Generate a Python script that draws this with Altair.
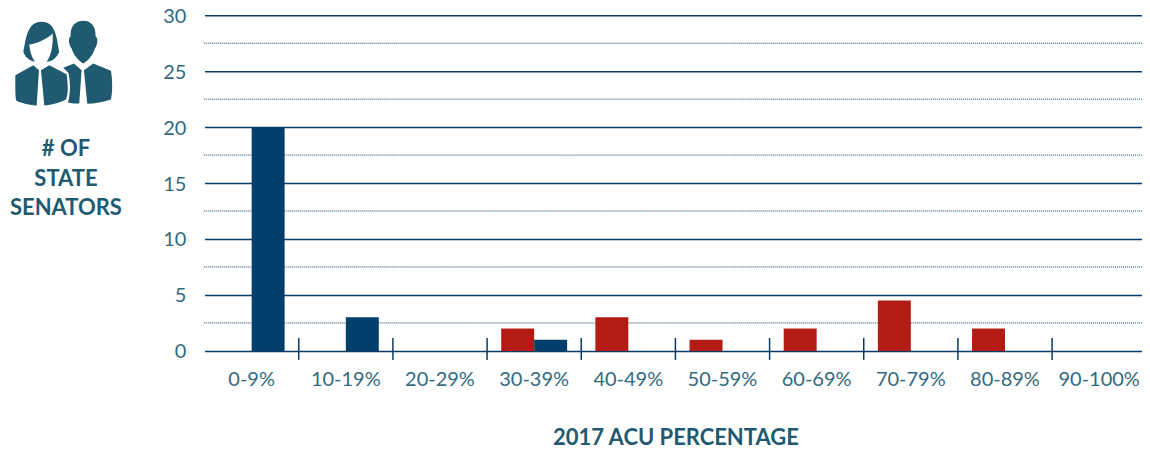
import altair as alt
import pandas as pd

categories = ["0-9%", "10-19%", "20-29%", "30-39%", "40-49%", "50-59%", "60-69%", "70-79%", "80-89%", "90-100%"]
parties = ["Republican", "Democrat"]
republican = [0, 0, 0, 2, 3, 1, 2, 4.5, 2, 0]
democrat = [20, 3, 0, 1, 0, 0, 0, 0, 0, 0]
major_ticks = [0, 5, 10, 15, 20, 25, 30]
minor_ticks = [2.5, 7.5, 12.5, 17.5, 22.5, 27.5]
y_title_text = "# OF\nSTATE\nSENATORS"
x_title_text = "2017 ACU PERCENTAGE"

NAVY = "#0b3a66"
BLUE = "#003f6b"
RED = "#b21c15"
TEAL = "#336a80"
TITLE = "#1f5a70"
FONT = "Lato"

ICON = (
    "M70 155 C78 120 80 65 125 65 C170 65 170 120 178 155 C170 175 155 185 140 185 "
    "C155 165 160 130 158 100 C140 118 110 130 88 133 C90 155 95 170 105 185 C90 183 75 172 70 155 Z "
    "M46 225 L100 195 L117 210 L110 317 C90 315 65 310 50 303 C45 295 46 260 46 225 Z "
    "M148 195 L200 222 C205 260 205 280 198 298 C180 308 155 314 133 316 L123 210 Z "
    "M212 108 C210 75 230 62 250 62 C270 62 288 75 287 108 C294 112 295 130 285 145 "
    "C278 168 262 183 250 190 C238 183 222 168 215 145 C205 130 205 112 212 108 Z "
    "M190 203 L222 190 L245 210 L238 310 C225 310 215 310 204 307 C212 285 212 240 205 218 Z "
    "M280 190 L333 212 C338 240 338 280 333 298 C310 306 285 310 262 311 L252 210 Z"
)

rows = []
for c, r, d in zip(categories, republican, democrat):
    if r:
        rows.append({"cat": c, "party": "Republican", "n": r})
    if d:
        rows.append({"cat": c, "party": "Democrat", "n": d})
bars_df = pd.DataFrame(rows)

x_scale = alt.Scale(domain=categories, paddingInner=0.3, paddingOuter=0.15, range=[0.75, 943.25])
y_scale = alt.Scale(domain=[0, 30], nice=False)

minor = (
    alt.Chart(pd.DataFrame({"v": minor_ticks}))
    .mark_rule(color=NAVY, strokeWidth=1, strokeDash=[1, 1], opacity=0.95)
    .encode(y=alt.Y("v:Q", scale=y_scale), x=alt.value(0), x2=alt.value(941))
)

bars = (
    alt.Chart(bars_df)
    .mark_bar(cornerRadius=0)
    .encode(
        x=alt.X(
            "cat:N",
            scale=x_scale,
            sort=categories,
            title=x_title_text,
            axis=alt.Axis(
                labelAngle=0,
                labelFont=FONT,
                labelFontSize=20,
                labelFontWeight=400,
                labelColor=TEAL,
                labelPadding=19,
                ticks=False,
                domain=False,
                grid=False,
                titleFont=FONT,
                titleFontSize=22,
                titleFontWeight=700,
                titleColor=TITLE,
                titlePadding=38,
            ),
        ),
        xOffset=alt.XOffset("party:N", scale=alt.Scale(domain=parties)),
        y=alt.Y(
            "n:Q",
            scale=y_scale,
            title=None,
            axis=alt.Axis(
                values=major_ticks,
                labelFont=FONT,
                labelFontSize=20,
                labelFontWeight=400,
                labelColor=TEAL,
                labelPadding=18,
                labelOffset=1,
                ticks=False,
                domain=False,
                grid=True,
                gridColor=NAVY,
                gridWidth=1.5,
                gridOpacity=1,
            ),
        ),
        color=alt.Color("party:N", scale=alt.Scale(domain=parties, range=[RED, BLUE]), legend=None),
    )
)

band_ticks = (
    alt.Chart(pd.DataFrame({"cat": categories[:-1]}))
    .mark_rule(color=NAVY, strokeWidth=1.5, xOffset=14.14)
    .encode(
        x=alt.X("cat:N", scale=x_scale, sort=categories, bandPosition=1),
        y=alt.value(323),
        y2=alt.value(345),
    )
)

y_title = (
    alt.Chart(pd.DataFrame({"t": [y_title_text]}))
    .mark_text(
        font=FONT, fontSize=22, fontWeight=700, color=TITLE,
        align="center", baseline="alphabetic", lineBreak="\n", lineHeight=29.5,
    )
    .encode(text="t:N", x=alt.value(-138), y=alt.value(141))
)

icon = (
    alt.Chart(pd.DataFrame({"i": [0]}))
    .mark_point(shape=ICON, size=4 / 9, filled=True, fill="#1f5a70", opacity=1, strokeWidth=0)
    .encode(x=alt.value(-204), y=alt.value(-15))
)

chart = (
    alt.layer(minor, bars, band_ticks, y_title, icon)
    .properties(
        width=939,
        height=336,
        autosize=alt.AutoSizeParams(type="none"),
        padding={"left": 196, "top": 7, "right": 0, "bottom": 97},
    )
    .configure_view(stroke=None)
)

chart.save("out.html", embed_options={"renderer": "svg", "actions": False})
